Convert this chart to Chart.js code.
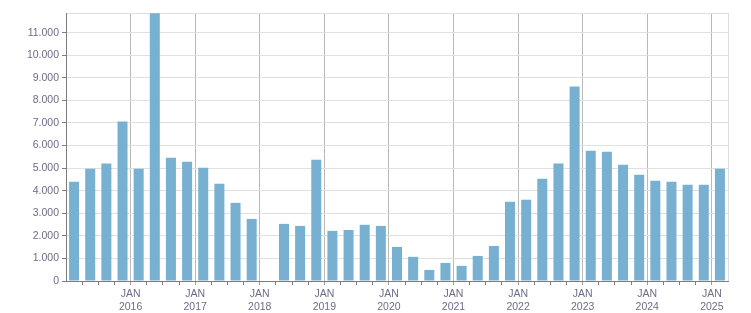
<!DOCTYPE html>
<html lang="en">
<head>
<meta charset="UTF-8">
<title>Quarterly values 2015–2025</title>
<script src="https://cdn.jsdelivr.net/npm/chart.js"></script>
<style>
  body { margin: 0; background: #fff; }
  #wrap { width: 751px; height: 313px; position: relative; }
</style>
</head>
<body>
<div id="wrap"><canvas id="chart"></canvas></div>
<script>
  const quarters = [
    '2015 Q1', '2015 Q2', '2015 Q3', '2015 Q4',
    '2016 Q1', '2016 Q2', '2016 Q3', '2016 Q4',
    '2017 Q1', '2017 Q2', '2017 Q3', '2017 Q4',
    '2018 Q1', '2018 Q2', '2018 Q3', '2018 Q4',
    '2019 Q1', '2019 Q2', '2019 Q3', '2019 Q4',
    '2020 Q1', '2020 Q2', '2020 Q3', '2020 Q4',
    '2021 Q1', '2021 Q2', '2021 Q3', '2021 Q4',
    '2022 Q1', '2022 Q2', '2022 Q3', '2022 Q4',
    '2023 Q1', '2023 Q2', '2023 Q3', '2023 Q4',
    '2024 Q1', '2024 Q2', '2024 Q3', '2024 Q4',
    '2025 Q1'
  ];
  const values = [
    4400, 4970, 5200, 7060,
    4970, 11860, 5460, 5280,
    5020, 4310, 3460, 2750,
    null, 2530, 2440, 5370,
    2220, 2260, 2490, 2440,
    1510, 1070, 490, 800,
    670, 1110, 1550, 3510,
    3600, 4530, 5200, 8610,
    5770, 5730, 5150, 4710,
    4440, 4400, 4260, 4260,
    4970
  ];
  const yearLabels = ['2016', '2017', '2018', '2019', '2020', '2021', '2022', '2023', '2024', '2025'];
  const yTicks = [0, 1000, 2000, 3000, 4000, 5000, 6000, 7000, 8000, 9000, 10000, 11000];
  const yMax = 11870;

  const textColor = '#6c6c88';
  const axisColor = '#7d7d7d';
  const clear = 'rgba(0,0,0,0)';
  const font = { family: "'Liberation Sans', Arial, sans-serif", size: 10.5 };

  function thousands(v) {
    return String(v).replace(/\B(?=(\d{3})+(?!\d))/g, '.');
  }
  function isYear(v) {
    return v % 4 === 0 && v > 0 && v < quarters.length;
  }
  function tv(c) {
    return c && c.tick ? c.tick.value : null;
  }

  const ctx = document.getElementById('chart').getContext('2d');
  new Chart(ctx, {
    type: 'bar',
    data: {
      labels: quarters,
      datasets: [{
        data: values,
        backgroundColor: '#78b0d2',
        borderWidth: 0,
        barPercentage: 0.62,
        categoryPercentage: 1,
        xAxisID: 'x',
        yAxisID: 'y'
      }]
    },
    options: {
      responsive: true,
      maintainAspectRatio: false,
      animation: false,
      layout: { padding: { left: 0, right: 23, top: 13, bottom: 0 } },
      plugins: { legend: { display: false }, tooltip: { enabled: false } },
      scales: {
        x: { display: false, offset: true },
        xt: {
          type: 'linear',
          position: 'bottom',
          offset: false,
          min: 0,
          max: quarters.length,
          afterBuildTicks: (s) => {
            s.ticks = quarters.map((q, i) => ({ value: i })).concat([{ value: quarters.length }]);
          },
          afterFit: (s) => { s.height = 32; },
          border: { color: axisColor, width: 1 },
          grid: {
            offset: false,
            color: (c) => {
              const v = tv(c);
              if (v === null) return clear;
              if (isYear(v)) return '#b9b9b9';
              return v === quarters.length ? '#dddddd' : clear;
            },
            tickColor: (c) => {
              const v = tv(c);
              if (v === null || v === 0 || v === quarters.length) return clear;
              return isYear(v) ? '#9a9a9a' : axisColor;
            },
            tickLength: 4,
            lineWidth: 1
          },
          ticks: {
            autoSkip: false,
            maxRotation: 0,
            padding: 3,
            color: textColor,
            font: font,
            callback: (v) => isYear(v) ? ['JAN', yearLabels[v / 4 - 1]] : ''
          }
        },
        y: {
          min: 0,
          max: yMax,
          afterBuildTicks: (s) => {
            s.ticks = yTicks.map(v => ({ value: v })).concat([{ value: yMax }]);
          },
          afterFit: (s) => { s.width = 66; },
          border: { color: axisColor, width: 1 },
          grid: {
            color: '#e0e0e0',
            tickColor: (c) => {
              const v = tv(c);
              return (v === null || v === yMax) ? clear : axisColor;
            },
            tickLength: 4,
            lineWidth: 1
          },
          ticks: {
            padding: 3,
            color: textColor,
            font: font,
            callback: (v) => v === yMax ? '' : thousands(v)
          }
        }
      }
    }
  });
</script>
</body>
</html>
